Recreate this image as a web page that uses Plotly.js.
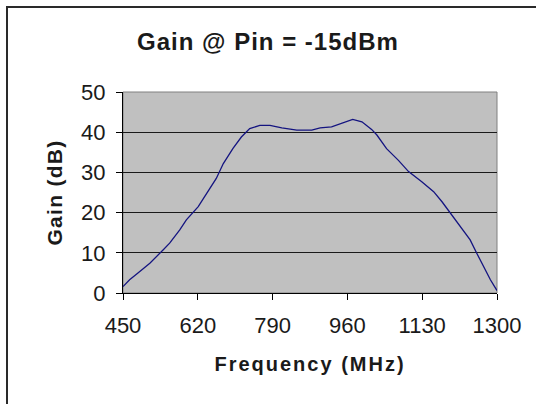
<!DOCTYPE html>
<html>
<head>
<meta charset="utf-8">
<script src="https://cdn.plot.ly/plotly-3.0.1.min.js"></script>
<style>
  html, body { margin: 0; padding: 0; background: #ffffff; }
  #wrap { position: relative; width: 536px; height: 404px; overflow: hidden; }
  #chart { width: 536px; height: 404px; }
  #frame { position: absolute; left: 6px; top: 6px; width: 700px; height: 700px;
           border-top: 2px solid #2a2a2a; border-left: 2px solid #2a2a2a; pointer-events: none; }
  .xtitle { letter-spacing: 2px; }
  .ytitle { letter-spacing: 1.3px; }
  .gtitle { letter-spacing: 1px; }
</style>
</head>
<body>
<div id="wrap">
  <div id="chart"></div>
  <div id="frame"></div>
</div>
<script>
// Frequency (MHz) and gain (dB)
const freqMHz = [450, 465, 484, 511, 541, 556, 579, 594, 621, 640, 662, 678, 700, 719, 738, 761,
                 784, 811, 837, 845, 879, 898, 924, 943, 972, 993, 1015, 1027, 1049, 1076, 1099,
                 1129, 1156, 1175, 1194, 1216, 1239, 1254, 1269, 1285, 1300];
const gainDb  = [1.6, 3.3, 5.0, 7.4, 10.7, 12.4, 15.7, 18.2, 21.5, 24.8, 28.5, 32.2, 36.0, 38.8, 40.9, 41.7,
                 41.7, 41.1, 40.7, 40.5, 40.5, 41.1, 41.3, 42.1, 43.2, 42.6, 40.7, 39.3, 35.9, 33.0, 30.2,
                 27.7, 25.2, 22.7, 19.8, 16.5, 13.2, 9.9, 6.6, 3.3, 0.6];
const xTicks = [450, 620, 790, 960, 1130, 1300];
const yTicks = [0, 10, 20, 30, 40, 50];

const FONT = 'Liberation Sans, Arial, Helvetica, sans-serif';

const trace = {
  x: freqMHz,
  y: gainDb,
  type: 'scatter',
  mode: 'lines',
  line: { color: '#141480', width: 1.3 },
  hoverinfo: 'skip'
};

const layout = {
  width: 536,
  height: 404,
  margin: { l: 123, r: 39, t: 92, b: 111, pad: 0 },
  paper_bgcolor: '#ffffff',
  plot_bgcolor: '#c0c0c0',
  showlegend: false,
  font: { family: FONT, color: '#1a1a1a' },
  title: {
    text: 'Gain @ Pin = -15dBm',
    font: { family: FONT, size: 24, weight: 'bold', color: '#1a1a1a' },
    xref: 'container', x: 0.5, xanchor: 'center',
    yref: 'container', y: 1 - 42 / 404, yanchor: 'middle'
  },
  xaxis: {
    range: [450, 1300],
    tickmode: 'array',
    tickvals: xTicks,
    ticktext: xTicks.map(String),
    ticks: 'outside', ticklen: 6, tickwidth: 1, tickcolor: '#000000',
    ticklabelstandoff: 7,
    showgrid: false, zeroline: false,
    showline: true, linecolor: '#000000', linewidth: 1,
    tickfont: { family: FONT, size: 22, color: '#1a1a1a' },
    automargin: false,
    title: {
      text: 'Frequency (MHz)',
      font: { family: FONT, size: 20, weight: 'bold', color: '#1a1a1a' },
      standoff: 19
    }
  },
  yaxis: {
    range: [0, 50],
    tickmode: 'array',
    tickvals: yTicks,
    ticktext: yTicks.map(String),
    ticks: 'outside', ticklen: 6, tickwidth: 1, tickcolor: '#000000',
    ticklabelstandoff: 6,
    showgrid: true, gridcolor: '#1a1a1a', gridwidth: 1,
    zeroline: false,
    showline: true, linecolor: '#000000', linewidth: 1,
    tickfont: { family: FONT, size: 22, color: '#1a1a1a' },
    automargin: false,
    title: {
      text: 'Gain (dB)',
      font: { family: FONT, size: 21, weight: 'bold', color: '#1a1a1a' },
      standoff: 12
    }
  },
  shapes: [
    { type: 'rect', xref: 'paper', yref: 'paper', x0: 0, x1: 1, y0: 0, y1: 1,
      line: { color: '#808080', width: 1 }, fillcolor: 'rgba(0,0,0,0)', layer: 'below' }
  ]
};

Plotly.newPlot('chart', [trace], layout, { staticPlot: true, displayModeBar: false });
</script>
</body>
</html>
